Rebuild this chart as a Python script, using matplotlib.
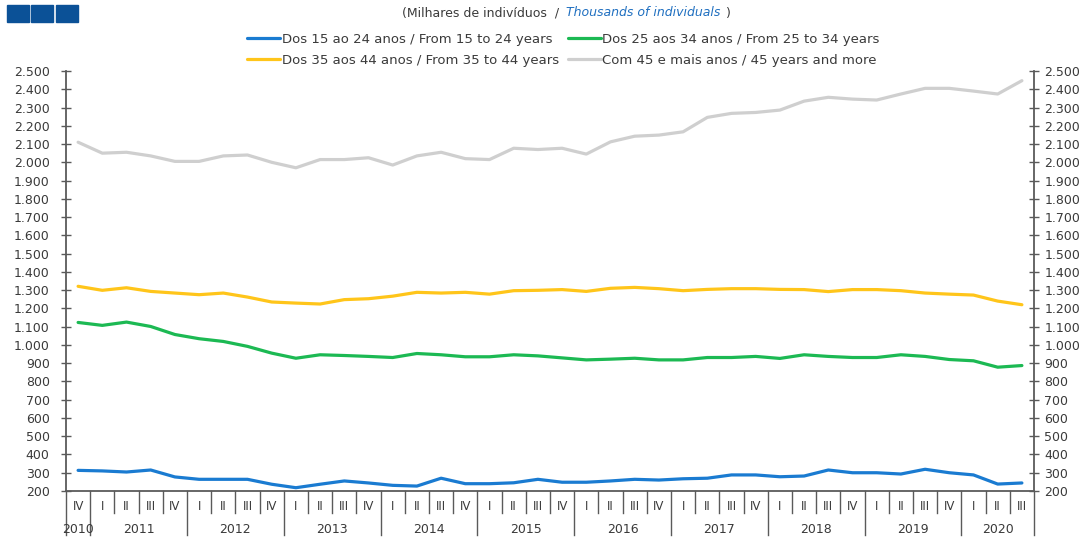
import matplotlib
matplotlib.use("Agg")
import matplotlib.pyplot as plt
from matplotlib.patches import Rectangle
from matplotlib.ticker import FuncFormatter, MultipleLocator
import matplotlib.transforms as mtransforms

plt.rcParams['font.family'] = ['DejaVu Sans']
plt.rcParams['font.size'] = 9

# Quarters 2010 IV .. 2020 III
quarters = ['IV'] + ['I', 'II', 'III', 'IV'] * 9 + ['I', 'II', 'III']
years = ['2010', '2011', '2012', '2013', '2014', '2015', '2016', '2017', '2018', '2019', '2020']

age_15_24 = [313, 310, 304, 315, 277, 264, 264, 264, 237, 218,
             237, 255, 244, 231, 227, 270, 240, 240, 245, 264,
             248, 248, 255, 264, 260, 267, 270, 288, 288, 278,
             282, 315, 300, 300, 293, 319, 300, 288, 238, 244]
age_25_34 = [1123, 1107, 1125, 1101, 1057, 1034, 1019, 992, 955, 927,
             946, 942, 937, 931, 953, 946, 935, 935, 946, 940,
             929, 918, 922, 927, 918, 918, 931, 931, 937, 926,
             946, 937, 931, 931, 946, 937, 920, 913, 878, 887]
age_35_44 = [1321, 1299, 1313, 1293, 1284, 1275, 1284, 1262, 1235, 1229,
             1224, 1248, 1253, 1267, 1288, 1284, 1288, 1278, 1297, 1299,
             1303, 1293, 1310, 1315, 1308, 1297, 1304, 1308, 1308, 1304,
             1303, 1292, 1303, 1303, 1297, 1284, 1278, 1273, 1240, 1220]
age_45_more = [2110, 2050, 2055, 2035, 2005, 2005, 2035, 2040, 2000, 1970,
               2015, 2015, 2025, 1985, 2035, 2055, 2020, 2015, 2077, 2070,
               2077, 2045, 2112, 2143, 2149, 2167, 2246, 2268, 2273, 2286,
               2335, 2356, 2346, 2341, 2374, 2405, 2405, 2390, 2374, 2447]

labels = ['Dos 15 ao 24 anos / From 15 to 24 years',
          'Dos 25 aos 34 anos / From 25 to 34 years',
          'Dos 35 aos 44 anos / From 35 to 44 years',
          'Com 45 e mais anos / 45 years and more']
colors = ['#1a7bd1', '#1cb953', '#ffc51a', '#cfcfcf']

fig = plt.figure(figsize=(10.86, 5.37), dpi=100)
ax = fig.add_axes([66 / 1086, 1 - 491 / 537, (1034 - 66) / 1086, 420 / 537])

x = list(range(len(quarters)))
series = [age_15_24, age_25_34, age_35_44, age_45_more]
handles = []
for vals, c, lab in zip(series, colors, labels):
    h, = ax.plot(x, vals, color=c, lw=2.3, label=lab, solid_capstyle='round')
    handles.append(h)

ax.set_xlim(-0.5, len(quarters) - 0.5)
ax.set_ylim(200, 2500)
fmt = FuncFormatter(lambda v, p: f"{v:,.0f}".replace(',', '.'))
spine_c = '#5a5a5a'
text_c = '#3a3a3a'

ax2 = ax.twinx()
ax2.set_ylim(200, 2500)
for a, side, pad in ((ax, 'left', 8.5), (ax2, 'right', 4.2)):
    a.yaxis.set_major_locator(MultipleLocator(100))
    a.yaxis.set_major_formatter(fmt)
    a.tick_params(axis='y', direction='inout', length=6.5, width=1.0,
                  color=spine_c, labelcolor=text_c, labelsize=9, pad=pad)
    for s in a.spines.values():
        s.set_visible(False)
    a.spines[side].set_visible(True)
    a.spines[side].set_color(spine_c)
    a.spines[side].set_linewidth(1.3)
ax.spines['bottom'].set_visible(True)
ax.spines['bottom'].set_color(spine_c)
ax.spines['bottom'].set_linewidth(1.3)
ax.set_xticks([])
ax2.set_xticks([])

# category separators and labels below the axis
trans = mtransforms.blended_transform_factory(ax.transData, ax.transAxes)
year_starts = [0] + [1 + 4 * k for k in range(10)] + [len(quarters)]
for k in range(len(quarters) + 1):
    bottom = -0.105 if k in year_starts else -0.052
    ax.plot([k - 0.5, k - 0.5], [0, bottom], transform=trans, color=spine_c,
            lw=1.0, clip_on=False)
for i, q in enumerate(quarters):
    ax.text(i, -0.036, q, transform=trans, ha='center', va='center',
            fontsize=8.5, color=text_c)
for j, y in enumerate(years):
    s, e = year_starts[j], year_starts[j + 1] - 1
    ax.text((s + e) / 2, -0.0905, y, transform=trans, ha='center', va='center',
            fontsize=9, color=text_c)

# legend: two rows
order = [0, 2, 1, 3]
fig.legend([handles[i] for i in order], [labels[i] for i in order], ncol=2,
           loc='center', bbox_to_anchor=(0.519, 0.907), frameon=False,
           handlelength=2.5, handletextpad=0.1, columnspacing=0.7,
           labelspacing=0.6, fontsize=9.5, labelcolor=text_c)

# title
fig.text(402 / 1086, 1 - 13 / 537, '(Milhares de indivíduos  / ', ha='left',
         va='center', fontsize=9, color=text_c)
fig.text(566 / 1086, 1 - 13 / 537, 'Thousands of individuals', ha='left',
         va='center', fontsize=9, color='#1f6fc0', style='italic')
fig.text(726 / 1086, 1 - 13 / 537, ')', ha='left', va='center', fontsize=9,
         color=text_c)

# three blue squares at the top left
for x0 in (7, 31, 56):
    fig.add_artist(Rectangle((x0 / 1086, 1 - 22 / 537), 22 / 1086, 17 / 537,
                             transform=fig.transFigure, color='#0b5197'))

fig.savefig('out.png', dpi=100)
